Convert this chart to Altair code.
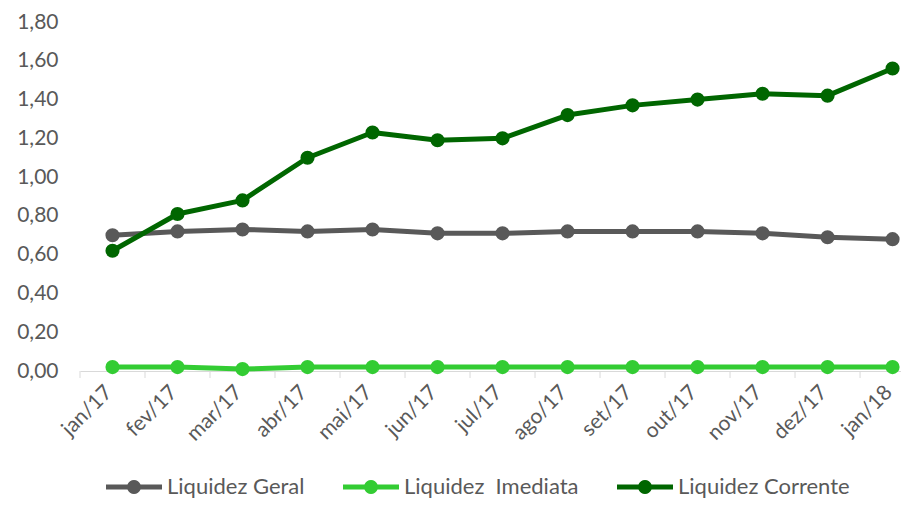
import json
import altair as alt
import pandas as pd

months = ["jan/17", "fev/17", "mar/17", "abr/17", "mai/17", "jun/17", "jul/17",
          "ago/17", "set/17", "out/17", "nov/17", "dez/17", "jan/18"]
geral = [0.70, 0.72, 0.73, 0.72, 0.73, 0.71, 0.71, 0.72, 0.72, 0.72, 0.71, 0.69, 0.68]
imediata = [0.02, 0.02, 0.01, 0.02, 0.02, 0.02, 0.02, 0.02, 0.02, 0.02, 0.02, 0.02, 0.02]
corrente = [0.62, 0.81, 0.88, 1.10, 1.23, 1.19, 1.20, 1.32, 1.37, 1.40, 1.43, 1.42, 1.56]
series_names = ["Liquidez Geral", "Liquidez\u00a0 Imediata", "Liquidez Corrente"]
series_colors = ["#595959", "#33CC33", "#006600"]
y_ticks = [0.0, 0.2, 0.4, 0.6, 0.8, 1.0, 1.2, 1.4, 1.6, 1.8]

rows = []
for name, vals in zip(series_names, [geral, imediata, corrente]):
    for i, (m, v) in enumerate(zip(months, vals)):
        rows.append({"idx": i, "mes": m, "serie": name, "valor": v})
df = pd.DataFrame(rows)
ticks_df = pd.DataFrame({"idx": list(range(len(months)))})

FONT = "Lato"
GREY = "#595959"

x_scale = alt.Scale(domain=[-0.5, 12.13], nice=False, zero=False)
x_axis = alt.Axis(
    values=list(range(len(months))),
    labelExpr=json.dumps(months) + "[datum.value]",
    title=None, grid=False, ticks=False,
    domainColor="#D9D9D9", domainWidth=1,
    labelAngle=-45, labelAlign="right", labelBaseline="middle",
    labelPadding=18, labelOffset=-4, labelFontSize=21, labelColor=GREY, labelFont=FONT,
)
y_enc = alt.Y(
    "valor:Q",
    scale=alt.Scale(domain=[0, 1.8], nice=False, zero=True),
    axis=alt.Axis(values=y_ticks,
                  labelExpr="replace(format(datum.value, '.2f'), '.', ',')",
                  title=None, grid=False, ticks=False, domain=False,
                  labelPadding=22, labelFontSize=21, labelColor=GREY, labelFont=FONT),
)

sym_path = ("M-1,-0.089 L-0.2336,-0.089 A0.25,0.25 0 0,1 0.2336,-0.089 L1,-0.089 "
            "L1,0.089 L0.2336,0.089 A0.25,0.25 0 0,1 -0.2336,0.089 L-1,0.089 Z")

color_enc = alt.Color(
    "serie:N",
    scale=alt.Scale(domain=series_names, range=series_colors),
    legend=alt.Legend(orient="none", legendX=26, legendY=437, direction="horizontal",
                      title=None, symbolType=sym_path, symbolSize=3136,
                      symbolStrokeWidth=0, symbolOpacity=1,
                      labelFontSize=22, labelColor=GREY, labelFont=FONT, labelLimit=400,
                      labelOffset=5, columnPadding=38, padding=0),
)

base = alt.Chart(df).encode(
    x=alt.X("idx:Q", scale=x_scale, axis=x_axis),
    y=y_enc,
    color=color_enc,
    order=alt.Order("idx:Q"),
)

lines = base.mark_line(strokeWidth=5, strokeCap="round", strokeJoin="round")
points = base.mark_point(filled=True, size=200, opacity=1)

tick_rules = alt.Chart(ticks_df).transform_calculate(
    b="datum.idx - 0.5"
).mark_rule(color="#D9D9D9", strokeWidth=1).encode(
    x=alt.X("b:Q", scale=x_scale, axis=x_axis),
    y=alt.value(349),
    y2=alt.value(356),
)

chart = alt.layer(tick_rules, lines, points).properties(
    width=821,
    height=349,
    autosize=alt.AutoSizeParams(type="none"),
    padding={"left": 72, "top": 14, "right": 0, "bottom": 128},
).configure(font=FONT).configure_view(stroke=None, strokeWidth=0)

chart.save("out.html", embed_options={"renderer": "svg", "actions": False})
